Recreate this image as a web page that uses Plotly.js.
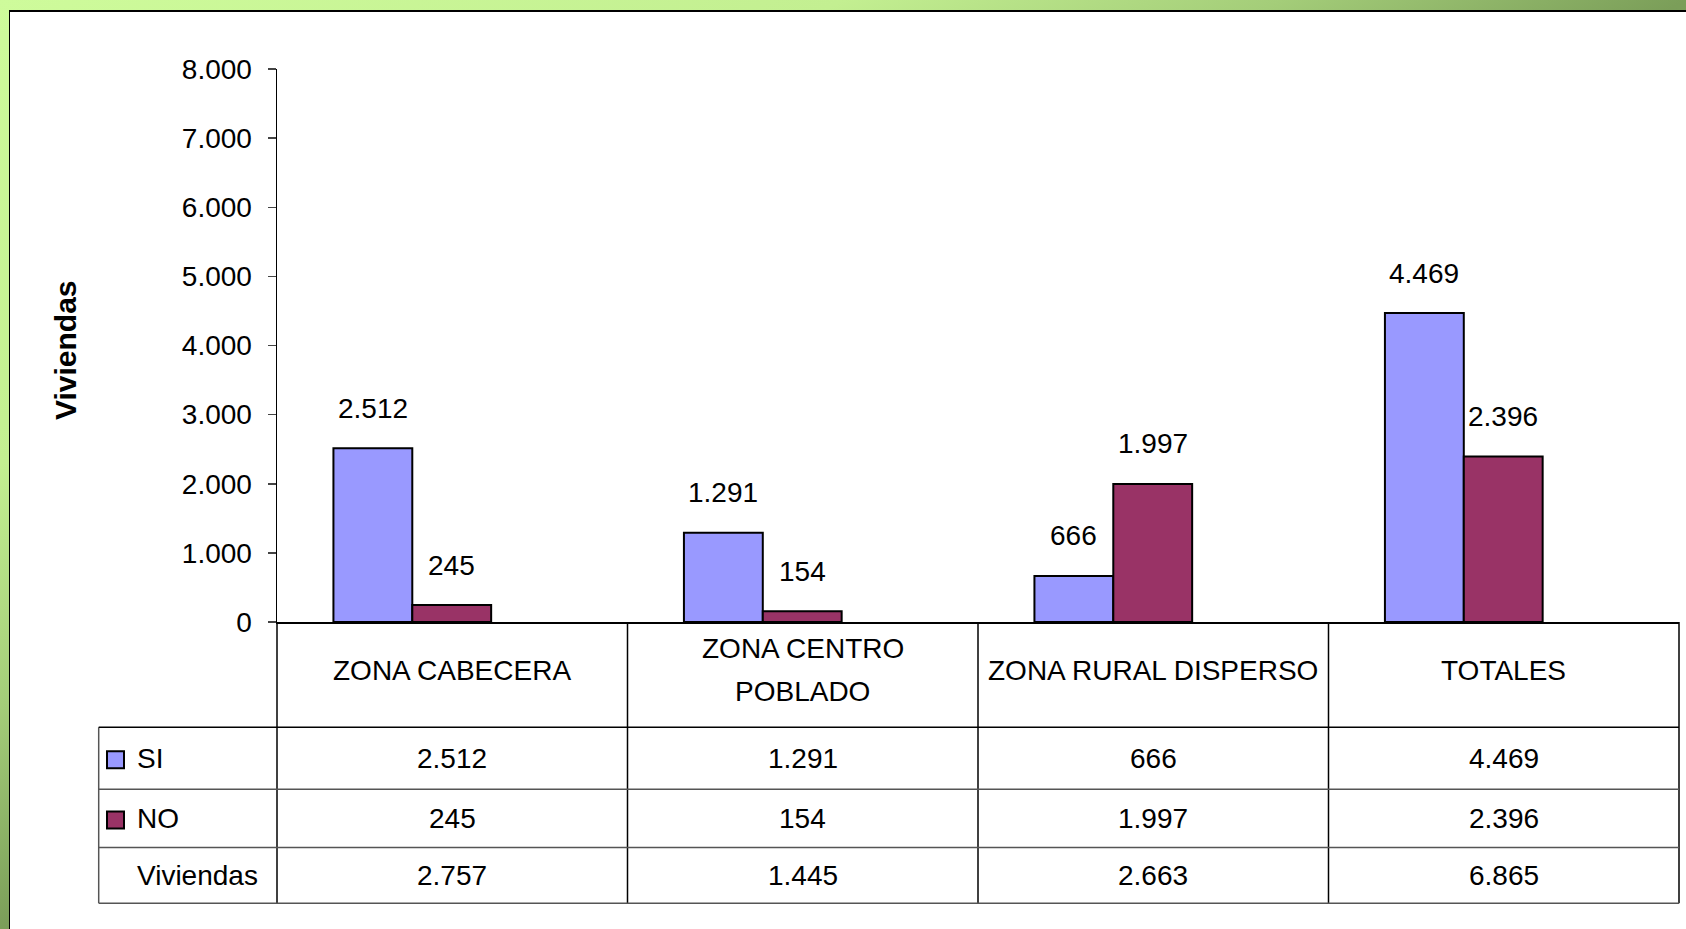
<!DOCTYPE html>
<html><head><meta charset="utf-8">
<script src="https://cdn.plot.ly/plotly-3.0.1.min.js"></script>
<style>
html,body{margin:0;padding:0;width:1686px;height:929px;overflow:hidden;}
body{background:linear-gradient(to bottom right,#cefb9b 0%,#c3ef91 25%,#a4cd79 38%,#7b9e59 50%,#5e7e41 100%);}
#frame{position:absolute;left:9px;top:10px;width:1677px;height:919px;background:#fff;border-left:1.5px solid #000;border-top:2px solid #000;box-sizing:border-box;}
#chart{position:absolute;left:0;top:0;width:1686px;height:929px;}
</style></head>
<body><div id="frame"></div><div id="chart"></div>
<script>
// ---- data ----
const categories = ['ZONA CABECERA', 'ZONA CENTRO POBLADO', 'ZONA RURAL DISPERSO', 'TOTALES'];
const headerLabels = ['ZONA CABECERA', 'ZONA CENTRO<br>POBLADO', 'ZONA RURAL DISPERSO', 'TOTALES'];
const seriesNames = ['SI', 'NO'];
const siValues = [2512, 1291, 666, 4469];
const noValues = [245, 154, 1997, 2396];
const totalName = 'Viviendas';
const totalValues = [2757, 1445, 2663, 6865];
const yTickVals = [0, 1000, 2000, 3000, 4000, 5000, 6000, 7000, 8000];
const yTitle = 'Viviendas';

// ---- styles / layout geometry (pixels) ----
const colors = ['#9999FF', '#993366'];
const FONT = 'Liberation Sans, Arial, sans-serif';
const L = 277, R = 1679, T = 69, B = 622;
const W = R - L, H = B - T;
const xp = px => (px - L) / W;
const yp = py => (B - py) / H;
const fmt = n => String(n).replace(/\B(?=(\d{3})+(?!\d))/g, '.');

const rowTop = [622, 727.3, 789.3, 847.5, 903.2]; // header, SI, NO, total rows
const legLeft = 98.7;
const headerLineGap = 42.5;

const traces = [siValues, noValues].map((vals, s) => ({
  type: 'bar', name: seriesNames[s], x: categories, y: vals,
  marker: {color: colors[s], line: {color: '#000', width: 2}},
  hoverinfo: 'x+y', showlegend: false
}));

const shapes = [];
const annotations = [];
const line = (x0, y0, x1, y1, c, w) => shapes.push({type: 'line', xref: 'paper', yref: 'paper',
  x0: x0, y0: y0, x1: x1, y1: y1, line: {color: c, width: w}});

const n = categories.length;
// vertical lines of table
for (let i = 0; i <= n; i++) line(i / n, yp(rowTop[0]), i / n, yp(rowTop[4]), '#000', 1.5);
line(xp(legLeft), yp(rowTop[1]), xp(legLeft), yp(rowTop[4]), '#555', 1.5);
// horizontal lines
line(xp(legLeft), yp(rowTop[1]), 1, yp(rowTop[1]), '#000', 1.5);
line(xp(legLeft), yp(rowTop[2]), 1, yp(rowTop[2]), '#555', 1.5);
line(xp(legLeft), yp(rowTop[3]), 1, yp(rowTop[3]), '#555', 1.5);
line(xp(legLeft), yp(rowTop[4]), 1, yp(rowTop[4]), '#555', 1.5);

const txt = (x, y, text, opts) => annotations.push(Object.assign({
  xref: 'paper', yref: 'paper', x: x, y: y, text: text, showarrow: false,
  xanchor: 'center', yanchor: 'middle', font: {family: FONT, size: 28, color: '#000'}
}, opts || {}));

// header labels (each line placed separately for Excel-like line spacing)
headerLabels.forEach((lab, i) => {
  const parts = lab.split('<br>');
  parts.forEach((p, k) => {
    const yc = 670 + (k - (parts.length - 1) / 2) * headerLineGap;
    txt((i + 0.5) / n, yp(yc), p);
  });
});
// row cells
const rows = [siValues, noValues, totalValues];
const rowNames = [seriesNames[0], seriesNames[1], totalName];
rows.forEach((vals, r) => {
  const yc = yp((rowTop[r + 1] + rowTop[r + 2]) / 2);
  vals.forEach((v, i) => txt((i + 0.5) / n, yc, fmt(v)));
  txt(xp(135), yc, rowNames[r], {xanchor: 'left'});
  if (r < 2) {
    const cy = (rowTop[r + 1] + rowTop[r + 2]) / 2;
    shapes.push({type: 'rect', xref: 'paper', yref: 'paper',
      x0: xp(107), x1: xp(124), y0: yp(cy - 7), y1: yp(cy + 10),
      fillcolor: colors[r], line: {color: '#000', width: 2}});
  }
});

// data labels above bars
[siValues, noValues].forEach((vals, s) => {
  vals.forEach((v, i) => annotations.push({
    xref: 'x', yref: 'y', x: categories[i], y: v, text: fmt(v), showarrow: false,
    xshift: s === 0 ? -39.5 : 39.5, yshift: 40, xanchor: 'center', yanchor: 'middle',
    font: {family: FONT, size: 28, color: '#000'}
  }));
});

// y title
annotations.push({xref: 'paper', yref: 'paper', x: xp(65), y: yp(350), text: '<b>' + yTitle + '</b>',
  textangle: -90, showarrow: false, xanchor: 'center', yanchor: 'middle',
  font: {family: FONT, size: 30, color: '#000'}});

const layout = {
  width: 1686, height: 929,
  margin: {l: L, r: 1686 - R, t: T, b: 929 - B, pad: 0},
  paper_bgcolor: 'rgba(0,0,0,0)', plot_bgcolor: 'rgba(0,0,0,0)',
  separators: ',.',
  barmode: 'group', bargap: 0.55, bargroupgap: 0,
  font: {family: FONT, size: 28, color: '#000'},
  xaxis: {type: 'category', range: [-0.386, 3.614], showticklabels: false, ticks: '',
    showgrid: false, zeroline: false, showline: true, linecolor: '#000', linewidth: 1.5, fixedrange: true},
  yaxis: {range: [0, 8000], tickvals: yTickVals, tickformat: ',d', ticks: 'outside', ticklen: 8,
    tickwidth: 1.5, tickcolor: '#444', showline: true, linecolor: '#000', linewidth: 1.5,
    showgrid: false, zeroline: false, ticklabelstandoff: 10,
    tickfont: {family: FONT, size: 28, color: '#000'}, fixedrange: true},
  shapes: shapes, annotations: annotations, showlegend: false
};

Plotly.newPlot('chart', traces, layout, {displayModeBar: false, staticPlot: true});
</script></body></html>
